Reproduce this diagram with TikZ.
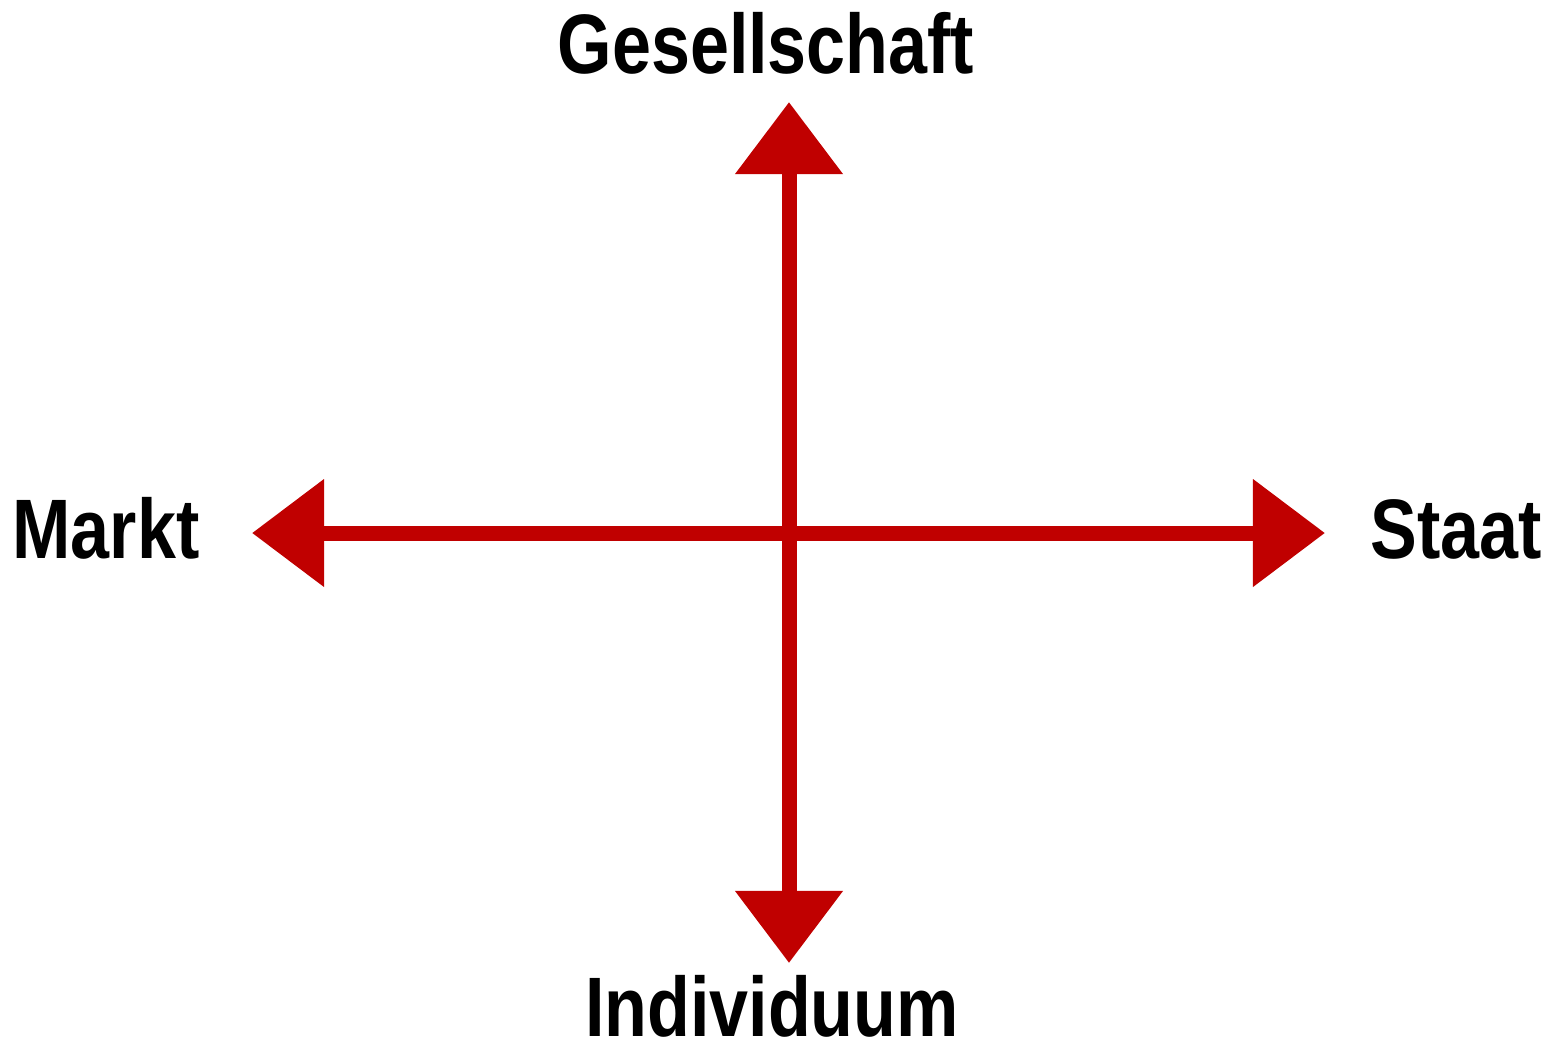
\documentclass[tikz,border=0pt]{standalone}
\usepackage{fontspec}
\setmainfont{Liberation Sans}[FakeStretch=0.83]
\usepackage{tikz}
\usetikzlibrary{arrows.meta,positioning}
\definecolor{achsrot}{HTML}{C00000}

\begin{document}
\begin{tikzpicture}[x=0.01cm,y=-0.01cm,
    achse/.style={achsrot,line width=0.15cm,
      {Triangle[length=0.72cm,width=1.04cm]}-{Triangle[length=0.72cm,width=1.04cm]}},
    pol/.style={anchor=base,font=\fontsize{24}{29}\selectfont\bfseries,inner sep=0pt}]
  % Rahmen (Seitenverhaeltnis der Vorlage)
  \useasboundingbox (0,0) rectangle (1557,1044);
  % Endpunkte der beiden Achsen
  \coordinate (oben)   at (789,102);
  \coordinate (unten)  at (789,963);
  \coordinate (links)  at (252,533);
  \coordinate (rechts) at (1325,533);
  % Achsen mit Pfeilspitzen an beiden Enden
  \draw[achse] (unten) -- (oben);
  \draw[achse] (links) -- (rechts);
  % Beschriftung der vier Pole
  \node[pol] (gesellschaft) at (766,73)  {Gesellschaft};
  \node[pol] (individuum)   at (772,1036) {Individuum};
  \node[pol] (markt)        at (106,558) {Markt};
  \node[pol] (staat)        at (1456,558) {Staat};
\end{tikzpicture}
\end{document}
